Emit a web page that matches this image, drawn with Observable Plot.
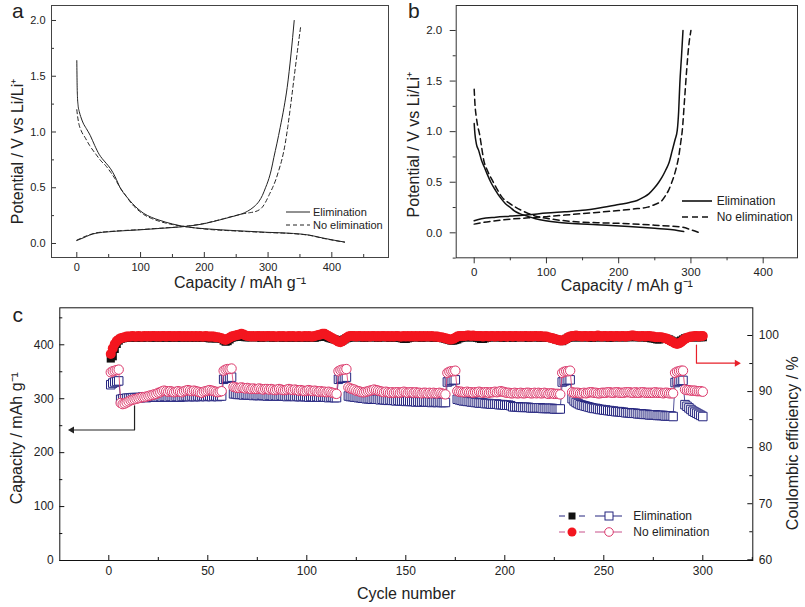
<!DOCTYPE html>
<html><head><meta charset="utf-8">
<script src="https://cdn.jsdelivr.net/npm/d3@7"></script>
<script src="https://cdn.jsdelivr.net/npm/@observablehq/plot@0.6"></script>
<style>
body{margin:0;background:#fff;}
#fig{position:relative;width:805px;height:607px;overflow:hidden;background:#fff;}
</style></head><body><div id="fig"></div>
<script>
// ---------------- DATA ----------------
// Panel a: first cycle (capacity mAh/g, potential V)
const aElimDischarge = [[0,1.64],[0.5,1.42],[1,1.32],[2,1.24],[4,1.18],[6,1.14],[10,1.08],[15,1.03],[21,0.97],[28,0.88],[35,0.8],[40,0.76],[46,0.72],[53,0.67],[60,0.6],[68,0.5],[78,0.42],[87,0.36],[96,0.31],[105,0.27],[117,0.235],[129,0.21],[150,0.175],[173,0.148],[200,0.133],[250,0.115],[300,0.1],[340,0.09],[365,0.075],[385,0.05],[405,0.028],[420,0.013]];
const aNoElimDischarge = [[0,1.2],[1,1.15],[3,1.08],[7,1.01],[13,0.95],[20,0.88],[30,0.8],[38,0.74],[45,0.7],[53,0.64],[60,0.58],[68,0.5],[78,0.42],[87,0.35],[96,0.3],[105,0.26],[117,0.225],[129,0.2],[150,0.17],[175,0.148],[200,0.13],[250,0.112],[300,0.098],[340,0.088],[365,0.073],[385,0.048],[405,0.026],[420,0.012]];
const aElimCharge = [[0,0.027],[10,0.05],[20,0.075],[30,0.092],[50,0.105],[75,0.115],[100,0.123],[130,0.135],[155,0.145],[178,0.158],[200,0.178],[215,0.198],[230,0.22],[245,0.243],[259,0.266],[268,0.29],[278,0.33],[286,0.38],[291,0.43],[296,0.5],[300,0.56],[305,0.66],[309,0.77],[314,0.9],[319,1.04],[325,1.22],[330,1.4],[336,1.7],[341,2.0]];
const aNoElimCharge = [[0,0.03],[30,0.095],[50,0.107],[75,0.117],[100,0.125],[130,0.137],[155,0.147],[178,0.16],[200,0.18],[215,0.2],[230,0.222],[245,0.245],[262,0.268],[272,0.277],[280,0.286],[287,0.305],[291,0.326],[296,0.37],[302,0.44],[307,0.5],[312,0.57],[317,0.66],[322,0.76],[327,0.9],[331,1.05],[335,1.22],[340,1.45],[345,1.68],[351,1.94]];
// Panel b: later cycle
const bElimDischarge = [[0,1.08],[1,0.98],[3,0.88],[6.4,0.81],[10,0.72],[14,0.65],[18,0.58],[23,0.5],[29.5,0.42],[36,0.35],[43,0.29],[50,0.25],[55,0.22],[63,0.19],[71,0.17],[85,0.14],[99,0.12],[115,0.105],[131,0.095],[170,0.08],[214,0.063],[250,0.045],[275,0.03],[290,0.012]];
const bNoElimDischarge = [[0,1.42],[1,1.28],[3,1.14],[5,1.05],[7.3,0.98],[10,0.86],[13.3,0.715],[18,0.62],[25,0.52],[31,0.44],[38.7,0.35],[47,0.3],[57,0.254],[66,0.22],[75.5,0.19],[88,0.16],[103,0.14],[131,0.115],[170,0.1],[214,0.09],[250,0.075],[288,0.056],[300,0.03],[310,0.005]];
const bElimCharge = [[0,0.12],[10,0.14],[30,0.155],[50,0.165],[75,0.178],[100,0.195],[125,0.208],[150,0.222],[175,0.248],[200,0.28],[215,0.3],[225.6,0.32],[234,0.35],[241.7,0.385],[249,0.44],[255.5,0.5],[260,0.55],[264.8,0.616],[270,0.7],[274,0.81],[278,0.92],[281,1.01],[283,1.2],[284.6,1.47],[287,1.75],[289,2.0]];
const bNoElimCharge = [[0,0.086],[10,0.1],[20,0.11],[50,0.135],[75,0.148],[100,0.16],[125,0.175],[150,0.19],[175,0.205],[200,0.22],[220,0.235],[240,0.254],[250,0.28],[260,0.32],[265,0.37],[269,0.42],[273,0.49],[276,0.55],[280,0.65],[283,0.75],[286,0.9],[288,1.01],[291,1.3],[294,1.6],[297,1.85],[300,2.0]];
const aXTicks = [0,100,200,300,400], aXMinor = [50,150,250,350,450];
const aYTicks = [0,0.5,1.0,1.5,2.0], aYMinor = [0.25,0.75,1.25,1.75];
const bXTicks = [0,100,200,300,400], bXMinor = [50,150,250,350];
const bYTicks = [0,0.5,1.0,1.5,2.0], bYMinor = [-0.25,0.25,0.75,1.25,1.75];

// Panel c: cycling (cycle 1..300)
const elimCap = [326,329,331,332,333,
299,300,300,301,301,301,302,302,302,302,
302,303,303,302,303,303,303,304,303,303,
304,303,304,304,303,304,304,303,304,304,
303,304,304,305,304,304,305,304,304,305,
304,305,305,304,305,305,304,305,305,304,305,305,
336,338,339,339,340,
309,309,308,308,308,307,308,307,307,307,
306,307,306,306,307,306,306,305,306,306,
305,306,305,305,306,305,305,304,305,305,
305,304,305,304,304,305,304,304,303,304,
304,303,304,303,303,304,303,303,302,303,303,302,302,
336,338,339,339,340,
305,304,304,303,303,302,302,301,301,300,
300,300,299,300,299,299,298,299,298,298,
297,298,297,297,296,297,296,296,296,295,
296,295,295,295,294,295,294,294,295,294,
294,294,293,294,294,293,294,293,293,293,
331,333,334,335,335,
299,298,297,296,296,295,295,294,294,293,
293,292,292,292,291,291,291,290,290,290,
290,289,289,289,288,288,288,287,285,285,
285,285,284,284,284,284,284,283,283,283,
283,283,283,282,282,282,282,282,282,281,281,281,281,
331,333,334,335,335,
300,296,293,291,289,288,287,286,285,284,
283,282,282,281,280,280,279,279,278,278,
277,277,276,276,276,275,275,274,274,274,
273,273,273,272,272,272,271,271,271,270,
270,270,270,269,269,269,269,268,268,268,268,267,
330,332,333,334,334,
289,286,283,280,277,275,273,271,269,267];
const noElimCap = [349,351,352,353,354,
292,290,291,293,295,297,298,299,300,301,
302,303,303,304,305,306,307,308,309,311,
312,314,315,314,313,314,313,312,313,314,
313,312,314,315,316,315,314,315,314,313,
312,311,313,314,315,316,315,314,313,312,313,314,
352,354,355,355,356,
322,321,320,320,321,320,319,320,319,318,
319,318,318,319,318,317,318,318,317,318,
317,316,317,318,317,316,316,317,318,317,
316,317,316,315,316,315,314,315,316,315,
314,315,314,313,314,313,313,312,313,312,311,310,309,
351,353,354,354,355,
321,319,318,317,315,314,313,312,312,313,
314,315,316,317,316,315,314,313,312,313,
312,311,312,311,312,312,311,312,313,312,
311,312,312,311,312,311,311,310,311,311,
310,311,310,311,310,310,311,310,309,308,
348,350,351,351,352,
314,313,313,312,312,313,312,312,311,312,
312,313,312,311,312,312,311,312,312,313,
312,313,314,313,312,311,311,310,310,311,
310,310,311,310,310,311,311,310,310,311,
310,311,310,310,311,310,309,310,310,309,309,309,308,
348,350,351,351,352,
312,311,311,311,310,310,311,310,311,312,
312,311,311,310,310,311,311,311,312,312,
311,311,312,312,311,311,311,312,312,312,
311,311,312,311,311,312,312,311,311,311,
311,311,312,311,311,311,310,311,311,310,310,310,
348,350,351,352,352,
317,316,316,315,315,315,314,314,314,313];
const elimCE = [95.9,96.3,97.6,98.5,99.1,99.4,99.5,99.6,99.6,99.7,
99.6,99.7,99.7,99.6,99.7,99.7,99.6,99.7,99.7,99.7,
99.7,99.6,99.7,99.7,99.7,99.6,99.7,99.7,99.7,99.6,
99.7,99.7,99.6,99.7,99.7,99.7,99.6,99.7,99.7,99.7,
99.6,99.7,99.7,99.6,99.7,99.7,99.6,99.7,99.6,99.6,
99.5,99.5,99.6,99.5,99.5,99.5,99.4,99.1,98.9,99.0,
99.3,99.6,99.7,99.8,99.8,99.8,99.9,99.8,99.7,99.7,
99.7,99.7,99.8,99.7,99.7,99.7,99.6,99.7,99.7,99.7,
99.7,99.7,99.6,99.7,99.7,99.7,99.7,99.6,99.7,99.7,
99.7,99.6,99.7,99.7,99.7,99.6,99.7,99.7,99.7,99.6,
99.7,99.7,99.7,99.6,99.7,99.8,99.8,99.8,99.9,99.8,
99.6,99.5,99.4,99.3,99.2,99.1,98.9,99.1,99.3,99.5,
99.6,99.7,99.7,99.7,99.7,99.7,99.7,99.7,99.6,99.7,
99.7,99.7,99.7,99.7,99.7,99.6,99.7,99.7,99.7,99.7,
99.7,99.6,99.7,99.7,99.7,99.6,99.6,99.5,99.4,99.4,
99.5,99.6,99.7,99.7,99.7,99.7,99.7,99.6,99.7,99.7,
99.7,99.7,99.7,99.6,99.7,99.7,99.6,99.6,99.5,99.4,
99.3,99.2,99.1,99.1,99.2,99.3,99.5,99.6,99.7,99.7,
99.7,99.7,99.7,99.7,99.7,99.6,99.5,99.4,99.4,99.5,
99.6,99.7,99.7,99.7,99.7,99.7,99.7,99.7,99.6,99.7,
99.7,99.7,99.7,99.6,99.7,99.7,99.7,99.7,99.7,99.7,
99.7,99.6,99.7,99.7,99.7,99.7,99.7,99.6,99.7,99.7,
99.7,99.6,99.6,99.5,99.4,99.3,99.2,99.1,99.0,99.2,
99.4,99.6,99.7,99.7,99.7,99.7,99.7,99.7,99.7,99.7,
99.7,99.7,99.7,99.6,99.7,99.7,99.7,99.7,99.7,99.7,
99.7,99.7,99.6,99.7,99.7,99.7,99.7,99.7,99.7,99.7,
99.7,99.7,99.7,99.8,99.8,99.7,99.7,99.7,99.7,99.7,
99.7,99.6,99.6,99.5,99.5,99.4,99.3,99.3,99.4,99.5,
99.5,99.4,99.3,99.1,98.9,98.8,98.8,98.9,99.1,99.3,
99.5,99.6,99.7,99.7,99.7,99.7,99.7,99.7,99.7,99.7];
const noElimCE = [96.7,97.7,98.5,99.0,99.3,99.5,99.6,99.7,99.8,99.8,
99.8,99.9,99.8,99.8,99.9,99.8,99.8,99.9,99.8,99.9,
99.8,99.9,99.9,99.8,99.9,99.8,99.9,99.9,99.8,99.9,
99.9,99.8,99.9,99.8,99.9,99.9,99.8,99.9,99.8,99.9,
99.8,99.9,99.8,99.9,99.8,99.9,99.8,99.8,99.9,99.8,
99.8,99.8,99.8,99.7,99.7,99.6,99.5,99.3,99.2,99.4,
99.6,99.8,99.9,100.0,100.1,100.2,100.3,100.2,100.0,99.9,
99.9,99.8,99.9,99.8,99.9,99.9,99.8,99.9,99.8,99.9,
99.9,99.8,99.9,99.8,99.8,99.9,99.8,99.9,99.8,99.8,
99.9,99.8,99.9,99.8,99.8,99.9,99.8,99.8,99.9,99.8,
99.9,99.8,99.8,99.9,100.0,100.1,100.2,100.3,100.3,100.1,
99.9,99.7,99.5,99.3,99.1,98.9,98.8,99.0,99.3,99.6,
99.8,99.9,99.9,99.9,99.8,99.9,99.9,99.8,99.9,99.8,
99.9,99.8,99.9,99.9,99.8,99.9,99.8,99.9,99.9,99.8,
99.9,99.8,99.9,99.8,99.9,99.9,99.8,99.8,99.9,99.8,
99.9,99.8,99.9,99.8,99.9,99.8,99.9,99.8,99.9,99.8,
99.9,99.8,99.9,99.8,99.8,99.8,99.7,99.7,99.6,99.5,
99.4,99.3,99.3,99.4,99.6,99.8,99.9,99.9,99.9,99.9,
100.0,100.0,99.9,100.0,99.9,99.9,99.9,99.9,99.8,99.9,
99.9,99.8,99.9,99.9,99.8,99.9,99.9,99.8,99.9,99.9,
99.8,99.9,99.9,99.8,99.9,99.9,99.8,99.9,99.8,99.9,
99.9,99.8,99.9,99.8,99.9,99.9,99.8,99.9,99.8,99.8,
99.8,99.7,99.6,99.5,99.4,99.3,99.2,99.1,99.1,99.2,
99.4,99.7,99.8,99.9,99.9,100.0,99.9,99.9,99.8,99.9,
99.9,99.8,99.9,99.9,99.8,99.9,100.0,99.9,99.8,99.9,
99.9,99.8,99.9,99.9,99.8,99.9,99.9,99.8,99.9,99.9,
99.8,99.9,99.9,100.0,100.0,99.9,99.9,99.8,99.9,99.9,
99.8,99.9,99.9,99.8,99.8,99.7,99.7,99.7,99.7,99.6,
99.5,99.4,99.2,99.0,98.8,98.6,98.5,98.6,98.8,99.1,
99.4,99.6,99.7,99.8,99.8,99.9,99.9,99.8,99.9,99.9];
const cXTicks = [0,50,100,150,200,250,300], cXMinor = [25,75,125,175,225,275,325];
const cYTicks = [0,100,200,300,400], cYMinor = [50,150,250,350,450];
const ceTicks = [60,70,80,90,100], ceMinor = [65,75,85,95];
// annotation arrows (cycle, capacity) and (cycle, CE %)
const capArrow = [[13,287],[13,242],[-18.6,242]];
const ceArrow = [[296.8,98.3],[296.8,95.06],[317.2,95.06]];

[elimCap,noElimCap,elimCE,noElimCE].forEach((a,i)=>{ if(a.length!==300) throw new Error("series "+i+" has "+a.length); });

// ---------------- RENDER ----------------
const FONT = '"Liberation Sans", Arial, Helvetica, sans-serif';
const fig = document.getElementById("fig");
function mount(node, left, top){ node.style.position="absolute"; node.style.left=left+"px"; node.style.top=top+"px"; fig.appendChild(node); }
const baseStyle = {background:"transparent", fontFamily:FONT, color:"#222", overflow:"visible"};
const XY = {x:d=>d[0], y:d=>d[1]};
const TITLE = {fontSize:16, lineAnchor:"middle", textAnchor:"middle"};

// Panel a
{
  const W=400,H=295,m={l:51,r:12,t:5,b:38}, fw=W-m.l-m.r, fh=H-m.t-m.b;
  const svg = Plot.plot({
    width:W,height:H,marginLeft:m.l,marginRight:m.r,marginTop:m.t,marginBottom:m.b,
    x:{domain:[-39.7,488.9]}, y:{domain:[-0.1256,2.1345]}, style:baseStyle,
    marks:[
      Plot.ruleX(aXTicks,{x:d=>d,insetTop:fh-5,stroke:"#333"}),
      Plot.ruleX(aXMinor,{x:d=>d,insetTop:fh-3,stroke:"#333"}),
      Plot.ruleY(aYTicks,{y:d=>d,insetRight:fw-5,stroke:"#333"}),
      Plot.ruleY(aYMinor,{y:d=>d,insetRight:fw-3,stroke:"#333"}),
      Plot.axisX(aXTicks,{tickSize:0,tickPadding:6,fontSize:11,label:null}),
      Plot.axisY(aYTicks,{tickSize:0,tickPadding:6,fontSize:11,label:null,tickFormat:d3.format(".1f")}),
      Plot.line(aElimDischarge,{...XY,stroke:"#222",strokeWidth:1,curve:"monotone-x"}),
      Plot.line(aElimCharge,{...XY,stroke:"#222",strokeWidth:1,curve:"monotone-x"}),
      Plot.line(aNoElimDischarge,{...XY,stroke:"#222",strokeWidth:1,strokeDasharray:"4,3",curve:"monotone-x"}),
      Plot.line(aNoElimCharge,{...XY,stroke:"#222",strokeWidth:1,strokeDasharray:"4,3",curve:"monotone-x"}),
      Plot.frame({stroke:"#444"}),
      Plot.text(["Capacity / mAh g⁻¹"],{...TITLE,frameAnchor:"bottom",dx:20,dy:25}),
      Plot.text(["Potential / V vs Li/Li⁺"],{...TITLE,frameAnchor:"left",rotate:-90,dx:-34,dy:20})
    ]
  });
  mount(svg,0,0);
}
// Panel b
{
  const W=405,H=295,m={l:55.7,r:8,t:5,b:37.7};
  const svg = Plot.plot({
    width:W,height:H,marginLeft:m.l,marginRight:m.r,marginTop:m.t,marginBottom:m.b,
    x:{domain:[-24.9,447.5]}, y:{domain:[-0.247,2.247]}, style:baseStyle,
    marks:[
      Plot.axisX(bXTicks,{tickSize:6,tickPadding:4,fontSize:11.5,label:null,stroke:"#333"}),
      Plot.axisX(bXMinor,{tickSize:3,tickFormat:()=>"",label:null,stroke:"#333"}),
      Plot.axisY(bYTicks,{tickSize:6,tickPadding:8,fontSize:11.5,label:null,stroke:"#333",tickFormat:d3.format(".1f")}),
      Plot.axisY(bYMinor,{tickSize:3,tickFormat:()=>"",label:null,stroke:"#333"}),
      Plot.line(bElimDischarge,{...XY,stroke:"#111",strokeWidth:1.5,curve:"monotone-x"}),
      Plot.line(bElimCharge,{...XY,stroke:"#111",strokeWidth:1.5,curve:"monotone-x"}),
      Plot.line(bNoElimDischarge,{...XY,stroke:"#111",strokeWidth:1.5,strokeDasharray:"6,4",curve:"monotone-x"}),
      Plot.line(bNoElimCharge,{...XY,stroke:"#111",strokeWidth:1.5,strokeDasharray:"6,4",curve:"monotone-x"}),
      Plot.frame({stroke:"#333"}),
      Plot.text(["Capacity / mAh g⁻¹"],{...TITLE,frameAnchor:"bottom",dx:0,dy:28}),
      Plot.text(["Potential / V vs Li/Li⁺"],{...TITLE,frameAnchor:"left",rotate:-90,dx:-42.7,dy:13})
    ]
  });
  mount(svg,400,0);
}
// Panel c
{
  const W=805,H=312,m={l:59.3,r:52.7,t:12.3,b:47}, fw=W-m.l-m.r, fh=H-m.t-m.b;
  const capDomain=[0,468.6], ceDomain=[59.875,104.94];
  const toLeft = ce => (ce-ceDomain[0])/(ceDomain[1]-ceDomain[0])*capDomain[1];
  const rows = elimCap.map((v,i)=>({cycle:i+1, elimCap:v, noElimCap:noElimCap[i], elimCE:toLeft(elimCE[i]), noElimCE:toLeft(noElimCE[i])}));
  const navy="#25257f", pink="#dc3a6c", red="#f3161f";
  const svg = Plot.plot({
    width:W,height:H,marginLeft:m.l,marginRight:m.r,marginTop:m.t,marginBottom:m.b,
    x:{domain:[-24.75,325.25]}, y:{domain:capDomain}, style:baseStyle,
    marks:[
      Plot.ruleX(cXTicks,{x:d=>d,insetTop:fh-5,stroke:"#111"}),
      Plot.ruleX(cXMinor,{x:d=>d,insetTop:fh-3,stroke:"#111"}),
      Plot.ruleY(cYTicks,{y:d=>d,insetRight:fw-5,stroke:"#111"}),
      Plot.ruleY(cYMinor,{y:d=>d,insetRight:fw-3,stroke:"#111"}),
      Plot.ruleY(ceTicks,{y:d=>toLeft(d),insetLeft:fw-5,stroke:"#111"}),
      Plot.ruleY(ceMinor,{y:d=>toLeft(d),insetLeft:fw-3,stroke:"#111"}),
      Plot.axisX(cXTicks,{tickSize:0,tickPadding:6,fontSize:12,label:null}),
      Plot.axisY(cYTicks,{tickSize:0,tickPadding:6,fontSize:12,label:null}),
      Plot.text(ceTicks,{y:d=>toLeft(d),text:d=>String(d),frameAnchor:"right",dx:6,textAnchor:"start",fontSize:12}),
      // coulombic efficiency (right axis)
      Plot.line(rows,{x:"cycle",y:"elimCE",stroke:navy,strokeWidth:0.8,strokeDasharray:"3,2"}),
      Plot.dot(rows,{x:"cycle",y:"elimCE",symbol:"square",r:4.6,fill:"#111"}),
      Plot.line(rows,{x:"cycle",y:"noElimCE",stroke:pink,strokeWidth:0.8,strokeDasharray:"3,2"}),
      Plot.dot(rows,{x:"cycle",y:"noElimCE",r:5,fill:red}),
      // capacity (left axis)
      Plot.line(rows,{x:"cycle",y:"elimCap",stroke:navy,strokeWidth:0.8}),
      Plot.dot(rows,{x:"cycle",y:"elimCap",symbol:"square",r:4.8,fill:"white",stroke:navy,strokeWidth:1}),
      Plot.line(rows,{x:"cycle",y:"noElimCap",stroke:pink,strokeWidth:0.8}),
      Plot.dot(rows,{x:"cycle",y:"noElimCap",r:4.7,fill:"white",stroke:pink,strokeWidth:1}),
      // arrows
      Plot.line(capArrow,{...XY,stroke:"#222",strokeWidth:1.2}),
      Plot.dot([capArrow[2]],{...XY,symbol:"triangle",rotate:-90,r:2.6,fill:"#222"}),
      Plot.line(ceArrow.map(d=>[d[0],toLeft(d[1])]),{...XY,stroke:"#e8202a",strokeWidth:1.2}),
      Plot.dot([ceArrow[2]].map(d=>[d[0],toLeft(d[1])]),{...XY,symbol:"triangle",rotate:90,r:2.6,fill:"#e8202a"}),
      Plot.frame({stroke:"#111"}),
      Plot.text(["Cycle number"],{...TITLE,frameAnchor:"bottom",dy:33}),
      Plot.text(["Capacity / mAh g⁻¹"],{...TITLE,frameAnchor:"left",rotate:-90,dx:-43,dy:4}),
      Plot.text(["Coulombic efficiency / %"],{...TITLE,frameAnchor:"right",rotate:-90,dx:40,dy:9})
    ]
  });
  mount(svg,0,295);
}
// Overlay: panel letters and legends
{
  const ov = d3.create("svg").attr("width",805).attr("height",607).attr("font-family",FONT).attr("fill","#222");
  ov.append("text").attr("x",12).attr("y",18).attr("font-size",21).text("a");
  ov.append("text").attr("x",408).attr("y",18).attr("font-size",21).text("b");
  ov.append("text").attr("x",12.5).attr("y",322).attr("font-size",21).text("c");
  // legend a
  const la=[["Elimination",null,212],["No elimination","4,3",225]];
  la.forEach(([t,dash,y])=>{
    ov.append("line").attr("x1",286).attr("x2",310).attr("y1",y).attr("y2",y).attr("stroke","#222").attr("stroke-width",1).attr("stroke-dasharray",dash);
    ov.append("text").attr("x",313).attr("y",y).attr("dy","0.35em").attr("font-size",11).text(t);
  });
  // legend b
  const lb=[["Elimination",null,201],["No elimination","6,4",217]];
  lb.forEach(([t,dash,y])=>{
    ov.append("line").attr("x1",682).attr("x2",712).attr("y1",y).attr("y2",y).attr("stroke","#111").attr("stroke-width",1.6).attr("stroke-dasharray",dash);
    ov.append("text").attr("x",716.7).attr("y",y).attr("dy","0.35em").attr("font-size",12).text(t);
  });
  // legend c
  const navy="#25257f", pink="#c8508a", red="#f3161f", pinkS="#dc3a6c";
  [[516,navy],[532,pink]].forEach(([y,c])=>{
    ov.append("line").attr("x1",559).attr("x2",565).attr("y1",y).attr("y2",y).attr("stroke",c);
    ov.append("line").attr("x1",579).attr("x2",585).attr("y1",y).attr("y2",y).attr("stroke",c);
    ov.append("line").attr("x1",595).attr("x2",622).attr("y1",y).attr("y2",y).attr("stroke",c);
  });
  ov.append("rect").attr("x",568.5).attr("y",512.5).attr("width",7).attr("height",7).attr("fill","#111");
  ov.append("rect").attr("x",605).attr("y",512).attr("width",8).attr("height",8).attr("fill","white").attr("stroke",navy);
  ov.append("circle").attr("cx",572).attr("cy",532).attr("r",4.5).attr("fill",red);
  ov.append("circle").attr("cx",609).attr("cy",532).attr("r",4.3).attr("fill","white").attr("stroke",pinkS);
  ov.append("text").attr("x",633.3).attr("y",516).attr("dy","0.35em").attr("font-size",12).text("Elimination");
  ov.append("text").attr("x",633.3).attr("y",532).attr("dy","0.35em").attr("font-size",12).text("No elimination");
  const node = ov.node(); node.style.pointerEvents="none";
  mount(node,0,0);
}
</script></body></html>
